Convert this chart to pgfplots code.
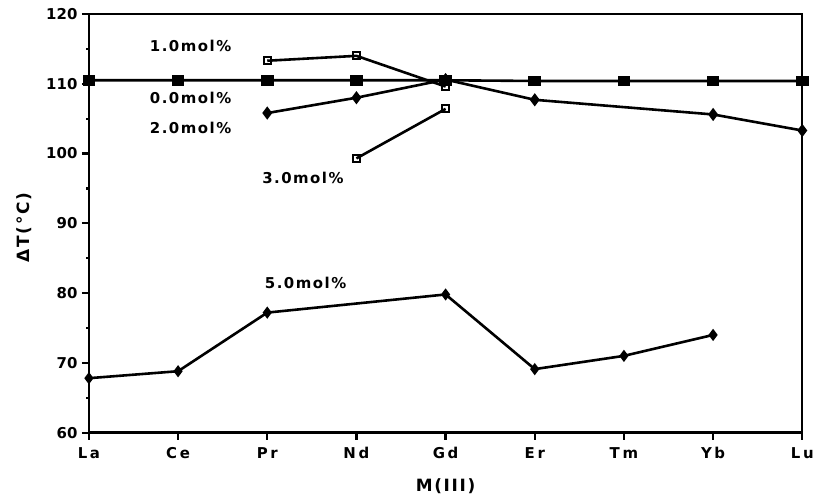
\documentclass[border=0pt]{standalone}
\usepackage{pgfplots}
\pgfplotsset{compat=1.18}
\usepackage{fontspec}
\setmainfont{DejaVu Sans}
\newfontfamily\spaced[LetterSpace=18]{DejaVu Sans}
\newfontfamily\lspaced[LetterSpace=10]{DejaVu Sans}
\begin{document}
\begin{tikzpicture}
\begin{axis}[
  at={(0,0)}, anchor=south west, scale only axis,
  width=714bp, height=419bp,
  xmin=0, xmax=8, ymin=60, ymax=120,
  xtick={0,...,8}, xticklabels={La,Ce,Pr,Nd,Gd,Er,Tm,Yb,Lu},
  ytick={60,70,...,120}, minor ytick={65,75,...,115},
  tick align=outside, major tick length=7bp, minor tick length=2.5bp,
  xtick pos=lower, ytick pos=left,
  axis line style={line width=2.4bp},
  every tick/.style={black, line width=2.2bp},
  /pgf/number format/assume math mode=true,
  yticklabel style={font=\bfseries\fontsize{15}{17}\selectfont, xshift=-1bp},
  xticklabel style={font=\spaced\bfseries\fontsize{15}{17}\selectfont, yshift=-4bp},
  xlabel={M(III)}, ylabel={ΔT(°C)},
  xlabel style={font=\lspaced\bfseries\fontsize{17}{19}\selectfont, at={(axis description cs:0.5,-0.129)}, anchor=center},
  ylabel style={font=\lspaced\bfseries\fontsize{17}{19}\selectfont, at={(axis description cs:-0.091,0.49)}, anchor=center},
  clip=false,
]
% 0.0 mol%
\addplot[black, line width=2.6bp, mark=square*, mark options={xscale=1.25, solid, fill=black}, mark size=4bp]
  coordinates {(0,110.5) (1,110.5) (2,110.5) (3,110.5) (4,110.5) (5,110.4) (6,110.4) (7,110.4) (8,110.4)};
% 1.0 mol%
\addplot[black, line width=2.6bp, mark=square, mark options={solid, line width=1.8bp}, mark size=3.5bp]
  coordinates {(2,113.3) (3,114.0) (4,109.6)};
% 2.0 mol%
\addplot[black, line width=2.6bp, mark=diamond*, mark options={solid, fill=black}, mark size=4.5bp]
  coordinates {(2,105.8) (3,108.0) (4,110.6) (5,107.7) (7,105.6) (8,103.3)};
% 3.0 mol%
\addplot[black, line width=2.6bp, mark=square, mark options={solid, line width=1.8bp}, mark size=3.5bp]
  coordinates {(3,99.3) (4,106.4)};
% 5.0 mol%
\addplot[black, line width=2.6bp, mark=diamond*, mark options={solid, fill=black}, mark size=4bp]
  coordinates {(0,67.8) (1,68.8) (2,77.2) (4,79.8) (5,69.1) (6,71.0) (7,74.0)};
\node[font=\lspaced\bfseries\fontsize{15}{17}\selectfont] at (axis cs:1.14,115.4) {1.0mol\%};
\node[font=\lspaced\bfseries\fontsize{15}{17}\selectfont] at (axis cs:1.14,107.9) {0.0mol\%};
\node[font=\lspaced\bfseries\fontsize{15}{17}\selectfont] at (axis cs:1.14,103.6) {2.0mol\%};
\node[font=\lspaced\bfseries\fontsize{15}{17}\selectfont] at (axis cs:2.40,96.5) {3.0mol\%};
\node[font=\lspaced\bfseries\fontsize{15}{17}\selectfont] at (axis cs:2.43,81.4) {5.0mol\%};
\end{axis}
\path[use as bounding box] (-89bp,-66bp) rectangle (728bp,433bp);
\end{tikzpicture}
\end{document}
